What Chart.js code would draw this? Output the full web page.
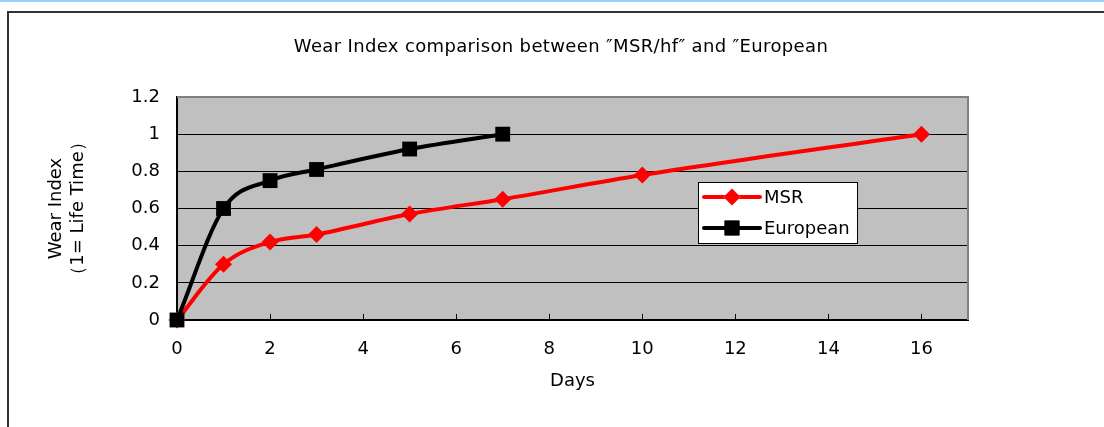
<!DOCTYPE html>
<html>
<head>
<meta charset="utf-8">
<script src="https://cdn.jsdelivr.net/npm/chart.js@4/dist/chart.umd.min.js"></script>
<style>
    html, body { margin: 0; padding: 0; background: #fff; }
    body { width: 1104px; height: 427px; position: relative; overflow: hidden; }
    .topline { position: absolute; left: 0; top: 0; width: 1104px; height: 2px; background: #99ccff; }
    .frame { position: absolute; left: 7px; top: 11px; width: 1200px; height: 500px; border: 2px solid #333; box-sizing: border-box; }
    #chart { position: absolute; left: 0; top: 0; }
</style>
</head>
<body>
<div class="topline"></div>
<div class="frame"></div>
<canvas id="chart" width="1104" height="427"></canvas>
<script>
"use strict";

const TITLE = "Wear Index comparison between \u2033MSR/hf\u2033 and \u2033European";
const X_TITLE = "Days";
const Y_TITLE = ["Wear Index", "\uff081= Life Time\uff09"];

const msrDays = [0, 1, 2, 3, 5, 7, 10, 16];
const msrWear = [0, 0.3, 0.42, 0.46, 0.57, 0.65, 0.78, 1.0];
const euroDays = [0, 1, 2, 3, 5, 7];
const euroWear = [0, 0.6, 0.75, 0.81, 0.92, 1.0];

const FONT = "'DejaVu Sans', sans-serif";
const FONT_SIZE = 18;
const COLOR_MSR = "#ff0000";
const COLOR_EURO = "#000000";
const PLOT_BG = "#c0c0c0";
const PLOT_EDGE = "#808080";

const toPoints = (xs, ys) => xs.map((x, i) => ({x: x, y: ys[i]}));

// plot background plus grey top/right edge
const plotFrame = {
    id: "plotFrame",
    beforeDraw (chart) {
        const {ctx, chartArea: a} = chart;
        ctx.save();
        ctx.fillStyle = PLOT_BG;
        ctx.fillRect(a.left, a.top, a.right - a.left, a.bottom - a.top);
        ctx.restore();
    },
    beforeDatasetsDraw (chart) {
        const {ctx, chartArea: a} = chart;
        ctx.save();
        ctx.strokeStyle = PLOT_EDGE;
        ctx.lineWidth = 2;
        ctx.beginPath();
        ctx.moveTo(a.left, a.top);
        ctx.lineTo(a.right, a.top);
        ctx.lineTo(a.right, a.bottom);
        ctx.stroke();
        ctx.restore();
    }
};

// chart title and boxed legend in the plot
const labels = {
    id: "labels",
    afterDraw (chart) {
        const ctx = chart.ctx;
        ctx.save();
        ctx.fillStyle = "#000";
        ctx.font = FONT_SIZE + "px " + FONT;
        ctx.textAlign = "center";
        ctx.textBaseline = "middle";
        ctx.letterSpacing = "0.35px";
        ctx.fillText(TITLE, 561, 47);
        ctx.letterSpacing = "0px";

        ctx.fillStyle = "#fff";
        ctx.fillRect(698, 182, 159, 61);
        ctx.strokeStyle = "#000";
        ctx.lineWidth = 1;
        ctx.strokeRect(698.5, 182.5, 159, 61);

        chart.data.datasets.forEach((ds, i) => {
            const y = 197 + i * 31;
            ctx.strokeStyle = ds.borderColor;
            ctx.lineWidth = 4;
            ctx.lineCap = "round";
            ctx.beginPath();
            ctx.moveTo(704, y);
            ctx.lineTo(760, y);
            ctx.stroke();
            Chart.helpers.drawPoint(ctx, {
                pointStyle: ds.pointStyle,
                radius: ds.pointRadius,
                rotation: 0,
                borderWidth: 0
            }, 732, y);
            ctx.fillStyle = ds.borderColor;
            ctx.fill();
            ctx.fillStyle = "#000";
            ctx.textAlign = "left";
            ctx.fillText(ds.label, 764, y + 1);
        });
        ctx.restore();
    }
};

new Chart(document.getElementById("chart"), {
    type: "line",
    data: {
        datasets: [{
            label: "MSR",
            data: toPoints(msrDays, msrWear),
            borderColor: COLOR_MSR,
            backgroundColor: COLOR_MSR,
            borderWidth: 4,
            pointStyle: "rectRot",
            pointRadius: 8.5,
            pointBorderWidth: 0,
            cubicInterpolationMode: "monotone",
            clip: false,
            order: 1
        }, {
            label: "European",
            data: toPoints(euroDays, euroWear),
            borderColor: COLOR_EURO,
            backgroundColor: COLOR_EURO,
            borderWidth: 4,
            pointStyle: "rect",
            pointRadius: 10.5,
            pointBorderWidth: 0,
            cubicInterpolationMode: "monotone",
            clip: false,
            order: 0
        }]
    },
    options: {
        responsive: false,
        animation: false,
        devicePixelRatio: 1,
        layout: {
            padding: {top: 97, right: 136, bottom: 0, left: 0}
        },
        plugins: {
            legend: {display: false},
            tooltip: {enabled: false}
        },
        scales: {
            x: {
                type: "linear",
                min: 0,
                max: 17,
                afterFit: s => { s.height = 107; },
                ticks: {
                    stepSize: 2,
                    includeBounds: false,
                    padding: 25,
                    color: "#000",
                    font: {family: FONT, size: FONT_SIZE}
                },
                grid: {
                    drawOnChartArea: false,
                    drawTicks: true,
                    tickLength: -6,
                    color: "#000"
                },
                border: {color: "#000", width: 2},
                title: {
                    display: true,
                    text: X_TITLE,
                    color: "#000",
                    font: {family: FONT, size: FONT_SIZE},
                    padding: {top: 0, bottom: 35}
                }
            },
            y: {
                min: 0,
                max: 1.2,
                afterFit: s => { s.width = 177; },
                ticks: {
                    stepSize: 0.2,
                    padding: 17,
                    color: "#000",
                    font: {family: FONT, size: FONT_SIZE},
                    callback: v => String(Number(v.toFixed(1)))
                },
                grid: {
                    drawTicks: false,
                    color: ctx => Math.abs(ctx.tick.value - 1.2) < 1e-6 ? PLOT_EDGE : "#000",
                    lineWidth: 1
                },
                border: {color: "#000", width: 2},
                title: {
                    display: true,
                    text: Y_TITLE,
                    color: "#000",
                    font: {family: FONT, size: FONT_SIZE},
                    padding: {top: 46, bottom: 0}
                }
            }
        }
    },
    plugins: [plotFrame, labels]
});
</script>
</body>
</html>
